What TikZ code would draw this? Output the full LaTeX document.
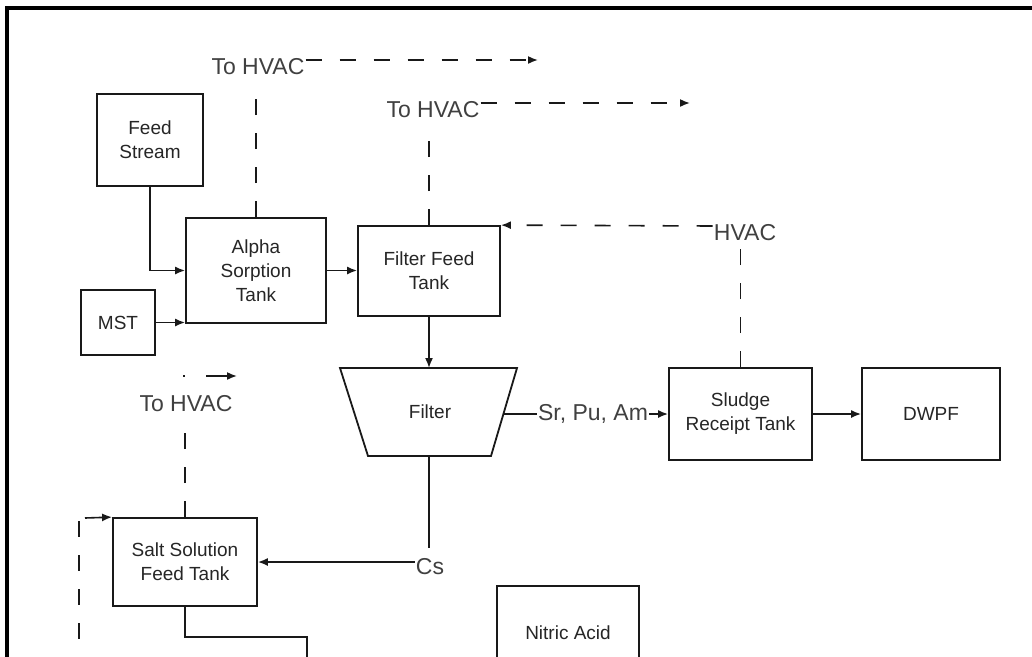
\documentclass[tikz,border=0pt]{standalone}
\usepackage{fontspec}
\setmainfont{Liberation Sans}
\usetikzlibrary{arrows.meta,calc}
\begin{document}
\begin{tikzpicture}[x=1pt,y=-1pt,
 box/.style={draw=black!90,line width=1.8pt,align=center,text=black!85,font=\fontsize{19}{24}\selectfont,inner sep=0pt},
 lbl/.style={text=black!75,font=\fontsize{23}{27}\selectfont,inner sep=1pt},
 conn/.style={draw=black!90,line width=1.6pt},
 arr/.style={conn,-{Latex[length=10pt,width=8pt]}},
 dsh/.style={conn,dash pattern=on 16pt off 18pt}]
\useasboundingbox (0,0) rectangle (1032,656);
\clip (0,0) rectangle (1032,656);
\fill[white] (0,0) rectangle (1032,656);
% frame
\draw[line width=3.5pt,black] (7,720) -- (7,8) -- (1100,8);
% boxes
\node[box,minimum width=106pt,minimum height=92pt] (feed) at (150,140) {Feed\\Stream};
\node[box,minimum width=140pt,minimum height=105pt] (alpha) at (256,270.5) {Alpha\\Sorption\\Tank};
\node[box,minimum width=74pt,minimum height=65pt] (mst) at (118,322.5) {MST};
\node[box,minimum width=142pt,minimum height=90pt] (fft) at (429,271) {Filter Feed\\Tank};
\node[box,minimum width=143pt,minimum height=92pt] (sludge) at (740.5,414) {Sludge\\Receipt Tank};
\node[box,minimum width=138pt,minimum height=92pt] (dwpf) at (931,414) {DWPF};
\node[box,minimum width=144pt,minimum height=88pt] (salt) at (185,562) {Salt Solution\\Feed Tank};
\node[box,minimum width=142pt,minimum height=94pt] (nitric) at (568,633) {Nitric Acid};
% filter trapezoid
\draw[conn,line width=1.8pt] (340,368) -- (517,368) -- (491,456) -- (368,456) -- cycle;
\node[box,draw=none] (filter) at (430,412) {Filter};
\coordinate (filterN) at (429,368);
\coordinate (filterS) at (429,456);
\coordinate (filterE) at (504,414);
% labels
\node[lbl] (hv1) at (258,67) {To HVAC};
\node[lbl] (hv2) at (433,110) {To HVAC};
\node[lbl] (hv3) at (745,233) {HVAC};
\node[lbl] (hv4) at (186,404) {To HVAC};
\node[lbl] (sr) at (593,414) {Sr, Pu, Am};
\node[lbl] (cs) at (430,567) {Cs};
\coordinate (hv1end) at (538,60);
\coordinate (hv2end) at (690,103);
\coordinate (hv4a) at (183,376);
\coordinate (hv4b) at (237,376);
\coordinate (lt) at (79,521);
\coordinate (lb) at (79,700);
\coordinate (lh) at (85,518);
\coordinate (sb1) at (307,637);
\coordinate (sb2) at (307,700);
% solid connectors
\draw[arr] (feed.south) |- (alpha.west);
\draw[arr] (mst.east) -- (mst.east -| alpha.west);
\draw[arr] (alpha.east) -- (alpha.east -| fft.west);
\draw[arr] (fft.south) -- (filterN);
\draw[conn] (filterE) -- (sr.west);
\draw[arr] (sr.east) -- (sludge.west);
\draw[arr] (sludge.east) -- (dwpf.west);
\draw[conn] (filterS) -- ([yshift=10pt]cs.north -| filterS);
\draw[arr] (cs.west |- salt.east) -- (salt.east);
\draw[conn] (salt.south) |- (sb1) -- (sb2);
\draw[arr] (lh) -- (salt.north west);
% dashed connectors
\draw[dsh] (alpha.north) -- ([yshift=-17pt]hv1.south -| alpha.north);
\draw[dsh,arr] ([yshift=7pt]hv1.east) -- (hv1end);
\draw[dsh] (fft.north) -- ([yshift=-19pt]hv2.south -| fft.north);
\draw[dsh,arr] ([yshift=7pt]hv2.east) -- (hv2end);
\draw[dsh,arr] ([yshift=7pt]hv3.west) -- (fft.north east);
\draw[dsh] (sludge.north) -- (hv3.south -| sludge.north);
\draw[dsh] (salt.north) -- ([yshift=-14pt]hv4.south -| salt.north);
\draw[conn,dash pattern=on 2pt off 21pt on 40pt,arr] (hv4a) -- (hv4b);
\draw[dsh] (lt) -- (lb);
\end{tikzpicture}
\end{document}
